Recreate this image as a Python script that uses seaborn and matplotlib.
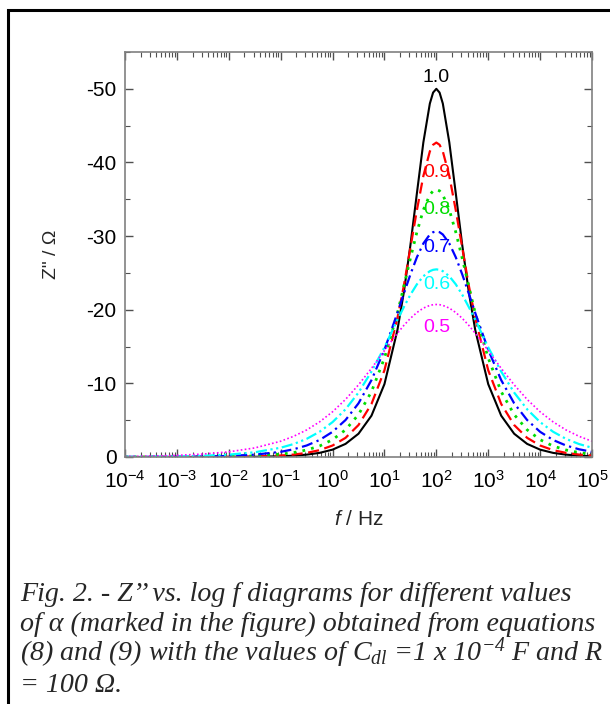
import matplotlib
matplotlib.use("Agg")
import matplotlib.pyplot as plt
import matplotlib.ticker as mticker
from matplotlib.patches import Rectangle
import numpy as np
import seaborn as sns

# log10(f / Hz) sampling positions
log_freq = [-4, -3.5, -3, -2.5, -2, -1.5, -1, -0.75, -0.5, -0.25, 0, 0.25, 0.5,
            0.75, 1, 1.25, 1.375, 1.5, 1.625, 1.75, 1.875, 1.9375, 2, 2.0625,
            2.125, 2.25, 2.375, 2.5, 2.625, 2.75, 3, 3.25, 3.5, 3.75, 4, 4.25,
            4.5, 4.75, 5]

# -Z'' (ohm)
z_a10 = [0.0001, 0.0003, 0.001, 0.003, 0.01, 0.03, 0.1, 0.18, 0.32, 0.56, 1.0,
         1.78, 3.16, 5.61, 9.9, 17.24, 22.42, 28.75, 35.79, 42.73, 48.0, 49.49,
         50.0, 49.49, 48.0, 42.73, 35.79, 28.75, 22.42, 17.24, 9.9, 5.61, 3.16,
         1.78, 1.0, 0.56, 0.32, 0.18, 0.1]
z_a09 = [0.0004, 0.001, 0.003, 0.009, 0.025, 0.07, 0.2, 0.33, 0.56, 0.93, 1.56,
         2.6, 4.34, 7.2, 11.78, 18.85, 23.31, 28.39, 33.51, 38.17, 41.5, 42.4,
         42.7, 42.4, 41.5, 38.17, 33.51, 28.39, 23.31, 18.85, 11.78, 7.2, 4.34,
         2.6, 1.56, 0.93, 0.56, 0.33, 0.2]
z_a08 = [0.0015, 0.004, 0.01, 0.024, 0.06, 0.15, 0.38, 0.6, 0.95, 1.49, 2.35,
         3.69, 5.76, 8.87, 13.44, 19.52, 23.21, 26.97, 30.53, 33.56, 35.6, 36.14,
         36.33, 36.14, 35.6, 33.56, 30.53, 26.97, 23.21, 19.52, 13.44, 8.87, 5.76,
         3.69, 2.35, 1.49, 0.95, 0.6, 0.38]
z_a07 = [0.006, 0.013, 0.028, 0.063, 0.14, 0.32, 0.7, 1.05, 1.56, 2.31, 3.42,
         5.02, 7.29, 10.44, 14.56, 19.56, 22.21, 24.79, 27.12, 29.0, 30.22, 30.53,
         30.64, 30.53, 30.22, 29.0, 27.12, 24.79, 22.21, 19.56, 14.56, 10.44, 7.29,
         5.02, 3.42, 2.31, 1.56, 1.05, 0.7]
z_a06 = [0.02, 0.04, 0.08, 0.16, 0.32, 0.64, 1.26, 1.76, 2.46, 3.43, 4.74,
         6.48, 8.75, 11.6, 14.9, 18.63, 20.38, 22.03, 23.45, 24.55, 25.24, 25.42,
         25.48, 25.42, 25.24, 24.55, 23.45, 22.03, 20.38, 18.63, 14.9, 11.6, 8.75,
         6.48, 4.74, 3.43, 2.46, 1.76, 1.26]
z_a05 = [0.07, 0.13, 0.22, 0.4, 0.7, 1.23, 2.14, 2.81, 3.67, 4.77, 6.14,
         7.82, 9.8, 12.04, 14.45, 16.8, 17.88, 18.83, 19.62, 20.22, 20.59, 20.68,
         20.71, 20.68, 20.59, 20.22, 19.62, 18.83, 17.88, 16.8, 14.45, 12.04, 9.8,
         7.82, 6.14, 4.77, 3.67, 2.81, 2.14]

alpha_labels = ["1.0", "0.9", "0.8", "0.7", "0.6", "0.5"]
label_heights = [51.5, 38.6, 33.6, 28.4, 23.4, 17.6]

y_ticks = [0, -10, -20, -30, -40, -50]
y_tick_labels = ["0", "-10", "-20", "-30", "-40", "-50"]

sns.set_style("ticks")
plt.rcParams["font.family"] = ["Liberation Sans", "DejaVu Sans"]
plt.rcParams["mathtext.fontset"] = "custom"
plt.rcParams["mathtext.rm"] = "Liberation Serif:italic"
plt.rcParams["mathtext.it"] = "Liberation Serif:italic"
plt.rcParams["mathtext.sf"] = "Liberation Sans:italic"

freq = 10.0 ** np.array(log_freq)
series = [z_a10, z_a09, z_a08, z_a07, z_a06, z_a05]
styles = [
    ("black", "-", 1.5),
    ("#ff0000", (0, (5, 2.5)), 1.6),
    ("#00dd00", (0, (1, 2.2)), 2.0),
    ("#0000ff", (0, (5, 2, 1, 2)), 1.6),
    ("#00ffff", (0, (5, 1.6, 1, 1.6, 1, 1.6)), 1.6),
    ("#ff00ff", (0, (1, 1.4)), 1.2),
]

fig = plt.figure(figsize=(6.1, 7.04), dpi=100)
ax = fig.add_axes([125 / 610, 1 - 457 / 704, 467 / 610, 405 / 704])
ax.set_xscale("log")

for vals, (color, ls, lw), lab, yh in zip(series, styles, alpha_labels, label_heights):
    sns.lineplot(x=freq, y=-np.array(vals), color=color, linestyle=ls,
                 linewidth=lw, ax=ax)
    ax.text(100, -yh, lab, color=color, ha="center", va="center", fontsize=14)

ax.set_xlim(1e-4, 1e5)
ax.set_ylim(0, -55)
ax.set_yticks(y_ticks)
ax.set_yticklabels(y_tick_labels)
ax.yaxis.set_minor_locator(mticker.MultipleLocator(5))
ax.xaxis.set_major_locator(mticker.LogLocator(base=10, numticks=20))
ax.xaxis.set_minor_locator(mticker.LogLocator(base=10, subs=np.arange(2, 10), numticks=20))
ax.xaxis.set_minor_formatter(mticker.NullFormatter())

for side in ["left", "right", "top", "bottom"]:
    ax.spines[side].set_color("#808080")
    ax.spines[side].set_linewidth(1.2)
ax.tick_params(which="both", direction="in", top=True, right=True,
               colors="#505050", labelcolor="black", labelsize=15)
ax.tick_params(which="major", length=6, width=1)
ax.tick_params(axis="x", which="major", pad=9)
ax.tick_params(axis="y", which="major", pad=6)
ax.tick_params(which="minor", length=3.5, width=0.8)

ax.set_xlabel("$\\mathsf{f}$ / Hz", fontsize=15)
ax.set_ylabel('Z" / \u03a9', fontsize=14)
ax.xaxis.set_label_coords(0.5, -0.13)
ax.yaxis.set_label_coords(-0.14, 0.5)

caption = [
    "Fig. 2. - Z\u2019\u2019 vs. log f diagrams for different values",
    "of \u03b1 (marked in the figure) obtained from equations",
    "(8) and (9) with the values of $C_{dl}$ =1 x $10^{-4}$ F and R",
    "= 100 \u03a9.",
]
baselines = [601, 631, 661, 692]
for line, yb in zip(caption, baselines):
    fig.text(20 / 610, 1 - yb / 704, line, family="Liberation Serif",
             style="italic", fontsize=20.2, va="baseline", ha="left")

fig.patches.append(Rectangle((7.5 / 610, -0.05), 1.2, 1 - 10 / 704 + 0.05,
                             transform=fig.transFigure, fill=False,
                             edgecolor="black", linewidth=2.2, clip_on=False))

fig.savefig("out.png", dpi=100)
plt.close(fig)
